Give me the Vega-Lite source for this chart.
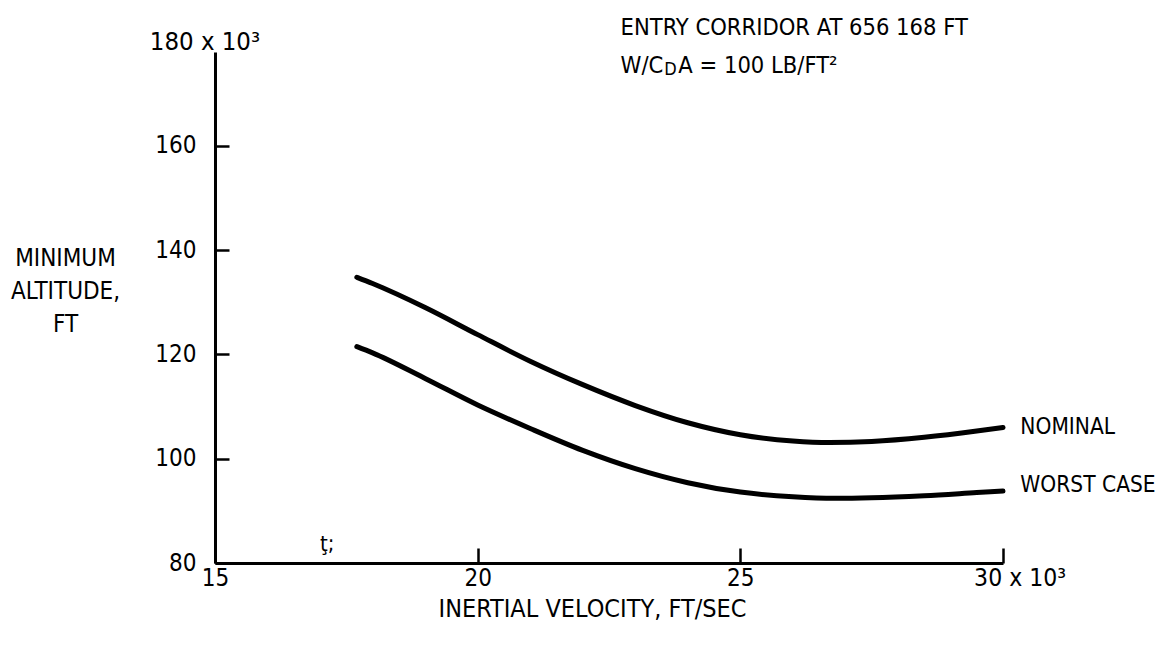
{
  "$schema": "https://vega.github.io/schema/vega-lite/v6.json",
  "width": 788,
  "height": 511,
  "padding": {"left": 215, "top": 52, "right": 160, "bottom": 84},
  "autosize": {"type": "none"},
  "background": "white",
  "config": {
    "view": {"stroke": null},
    "font": "DejaVu Sans Condensed, sans-serif",
    "axis": {"grid": false, "domainColor": "black", "domainWidth": 3, "tickColor": "black", "tickWidth": 2.5, "labelColor": "black", "labelFont": "DejaVu Sans Condensed, sans-serif", "labelFontSize": 23, "titleFont": "DejaVu Sans Condensed, sans-serif", "titleFontSize": 24, "titleFontWeight": "normal", "titleColor": "black", "labelFlush": false}
  },
  "datasets": {
    "curves": [
      {"v": 17.7, "alt": 134.8, "series": "NOMINAL"},
      {"v": 18.0, "alt": 133.6, "series": "NOMINAL"},
      {"v": 19.0, "alt": 129.0, "series": "NOMINAL"},
      {"v": 20.0, "alt": 123.8, "series": "NOMINAL"},
      {"v": 21.0, "alt": 118.7, "series": "NOMINAL"},
      {"v": 22.0, "alt": 114.2, "series": "NOMINAL"},
      {"v": 23.0, "alt": 110.2, "series": "NOMINAL"},
      {"v": 24.0, "alt": 106.9, "series": "NOMINAL"},
      {"v": 25.0, "alt": 104.6, "series": "NOMINAL"},
      {"v": 26.0, "alt": 103.4, "series": "NOMINAL"},
      {"v": 26.7, "alt": 103.1, "series": "NOMINAL"},
      {"v": 27.5, "alt": 103.3, "series": "NOMINAL"},
      {"v": 28.5, "alt": 104.1, "series": "NOMINAL"},
      {"v": 29.5, "alt": 105.3, "series": "NOMINAL"},
      {"v": 30.0, "alt": 106.0, "series": "NOMINAL"},
      {"v": 17.7, "alt": 121.5, "series": "WORST CASE"},
      {"v": 18.0, "alt": 120.3, "series": "WORST CASE"},
      {"v": 19.0, "alt": 115.4, "series": "WORST CASE"},
      {"v": 20.0, "alt": 110.3, "series": "WORST CASE"},
      {"v": 21.0, "alt": 105.8, "series": "WORST CASE"},
      {"v": 22.0, "alt": 101.6, "series": "WORST CASE"},
      {"v": 23.0, "alt": 98.1, "series": "WORST CASE"},
      {"v": 24.0, "alt": 95.4, "series": "WORST CASE"},
      {"v": 25.0, "alt": 93.6, "series": "WORST CASE"},
      {"v": 26.0, "alt": 92.7, "series": "WORST CASE"},
      {"v": 26.8, "alt": 92.4, "series": "WORST CASE"},
      {"v": 27.5, "alt": 92.5, "series": "WORST CASE"},
      {"v": 28.5, "alt": 92.9, "series": "WORST CASE"},
      {"v": 29.5, "alt": 93.5, "series": "WORST CASE"},
      {"v": 30.0, "alt": 93.8, "series": "WORST CASE"}
    ],
    "labels": [
      {"v": 30.33, "alt": 106.0, "text": "NOMINAL", "size": 22.5},
      {"v": 30.33, "alt": 95.0, "text": "WORST CASE", "size": 22.5},
      {"v": 22.72, "alt": 182.6, "text": "ENTRY CORRIDOR AT 656 168 FT", "size": 23.5},
      {"v": 22.72, "alt": 175.4, "text": "W/C", "size": 23.5},
      {"v": 23.55, "alt": 174.5, "text": "D", "size": 18},
      {"v": 23.82, "alt": 175.4, "text": "A = 100 LB/FT²", "size": 23.5},
      {"v": 13.76, "alt": 180.0, "text": "180 x 10³", "size": 25.5},
      {"v": 29.45, "alt": 77.0, "text": "30 x 10³", "size": 24.5},
      {"v": 17.0, "alt": 83.6, "text": "ţ;", "size": 22}
    ]
  },
  "layer": [
    {
      "data": {"name": "curves"},
      "mark": {"type": "line", "color": "black", "strokeWidth": 5, "strokeCap": "round", "interpolate": "monotone"},
      "encoding": {
        "x": {"field": "v", "type": "quantitative", "scale": {"domain": [15, 30], "nice": false, "zero": false},
          "axis": {"values": [15, 20, 25, 30], "labelExpr": "datum.value == 30 ? '' : datum.label", "labelFontSize": 24, "tickSize": -15, "labelPadding": 18, "title": "INERTIAL VELOCITY, FT/SEC", "titleFontSize": 25, "titleX": 377, "titleY": 45, "titleBaseline": "middle"}},
        "y": {"field": "alt", "type": "quantitative", "scale": {"domain": [80, 178], "nice": false, "zero": false},
          "axis": {"values": [80, 100, 120, 140, 160], "labelFontSize": 24, "tickSize": -14, "labelPadding": 33, "labelBaseline": "middle",
            "title": ["MINIMUM", "ALTITUDE,", "FT"], "titleAngle": 0, "titleX": -150, "titleY": 206, "titleAlign": "center", "titleBaseline": "middle", "titleLineHeight": 33}},
        "detail": {"field": "series"}
      }
    },
    {
      "data": {"name": "labels"},
      "mark": {"type": "text", "color": "black", "baseline": "middle", "align": "left"},
      "encoding": {
        "x": {"field": "v", "type": "quantitative"},
        "y": {"field": "alt", "type": "quantitative"},
        "text": {"field": "text"},
        "size": {"field": "size", "type": "quantitative", "scale": null}
      }
    }
  ]
}
